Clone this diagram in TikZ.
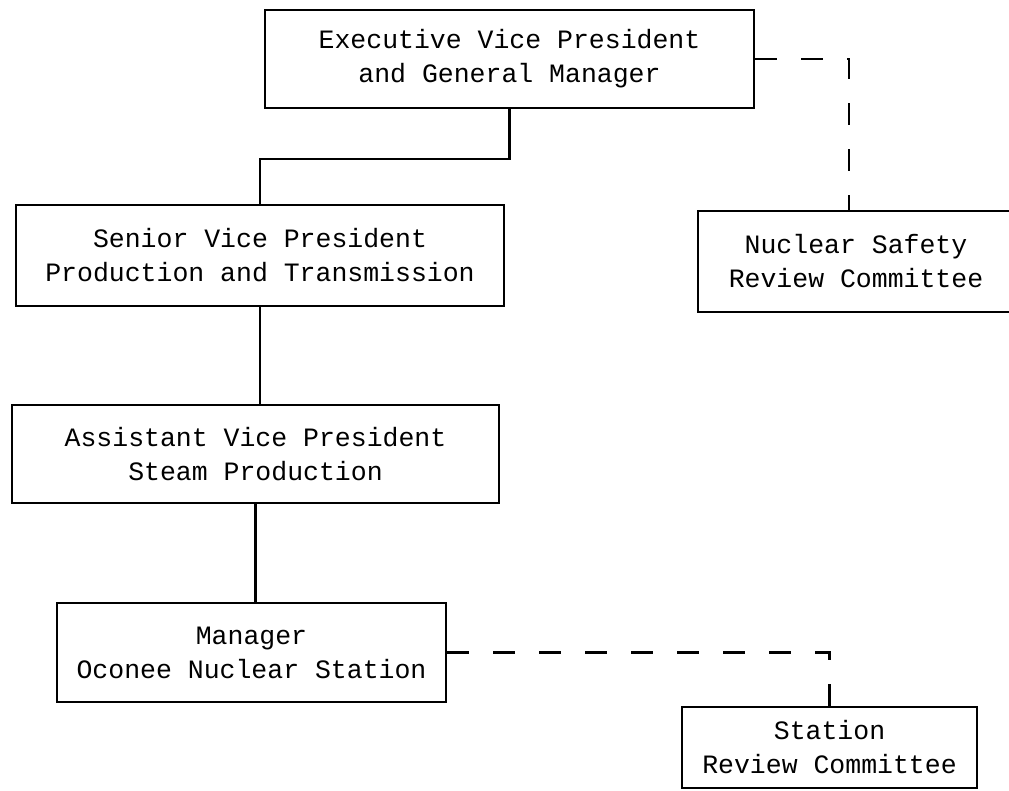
\documentclass[tikz,border=0pt]{standalone}
\usepackage{fontspec}
\setmonofont{Liberation Mono}
\usetikzlibrary{arrows}

\begin{document}
\begin{tikzpicture}[x=1pt,y=1pt]
\tikzset{OfficeStyle/.style={draw,line width=2.4pt,align=center,inner sep=0pt,
  font=\ttfamily\fontsize{26.5}{34}\selectfont}}
\tikzset{LineStyle/.style={line width=2.4pt}}
\tikzset{DashStyle/.style={line width=2.4pt,dash pattern=on 22pt off 24pt}}
\useasboundingbox (0,0) rectangle (1009,791);
\clip (0,0) rectangle (1009,791);
\node[OfficeStyle,minimum width=489pt,minimum height=98pt] (EVP) at (509.5,732)
  {Executive Vice President\\and General Manager};
\node[OfficeStyle,minimum width=488pt,minimum height=101pt] (SVP) at (260,535.5)
  {Senior Vice President\\Production and Transmission};
\node[OfficeStyle,minimum width=316pt,minimum height=101pt] (NSRC) at (856,529.5)
  {Nuclear Safety\\Review Committee};
\node[OfficeStyle,minimum width=487pt,minimum height=98pt] (AVP) at (255.5,337)
  {Assistant Vice President\\Steam Production};
\node[OfficeStyle,minimum width=389pt,minimum height=99pt] (MGR) at (251.5,138.5)
  {Manager\\Oconee Nuclear Station};
\node[OfficeStyle,minimum width=295pt,minimum height=81pt] (SRC) at (829.5,43.5)
  {Station\\Review Committee};
% line of authority
\draw[LineStyle] (EVP.south) -- ++(0,-50) -| (SVP.north);
\draw[LineStyle] (SVP.south) -- (SVP.south |- AVP.north);
\draw[LineStyle] (AVP.south) -- (AVP.south |- MGR.north);
% advisory
\draw[DashStyle] (EVP.east) -| ([xshift=-7pt]NSRC.north);
\draw[DashStyle] (MGR.east) -| (SRC.north);
\end{tikzpicture}
\end{document}
